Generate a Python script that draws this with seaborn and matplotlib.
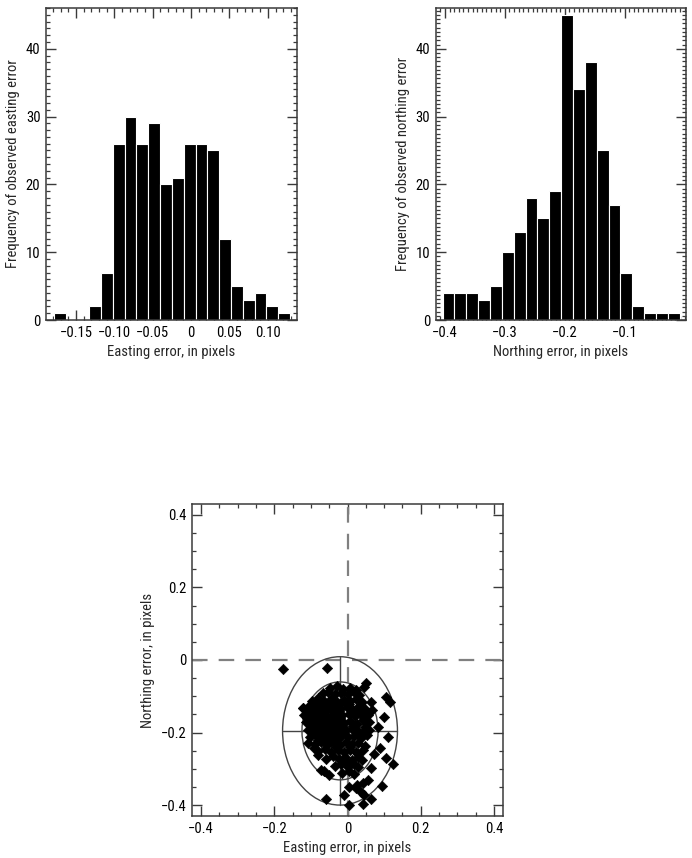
import numpy as np
import pandas as pd
import matplotlib
matplotlib.use("Agg")
import matplotlib.pyplot as plt
from matplotlib.patches import Ellipse
from matplotlib.ticker import MultipleLocator, FixedLocator, FuncFormatter
from matplotlib import font_manager
import seaborn as sns

# histogram counts
easting_counts = [1, 0, 0, 2, 7, 26, 30, 26, 29, 20, 21, 26, 26, 25, 12, 5, 3, 4, 2, 1]
easting_edges = np.linspace(-0.179, 0.129, 21)

northing_counts = [4, 4, 4, 3, 5, 10, 13, 18, 15, 19, 45, 34, 38, 25, 17, 7, 2, 1, 1, 1]
northing_edges = np.linspace(-0.404, -0.008, 21)

# scatter points (easting, northing)
points = [
    # dense core
    (-0.048, -0.078), (-0.030, -0.072), (-0.012, -0.080), (0.008, -0.076), (0.022, -0.083),
    (-0.068, -0.092), (-0.052, -0.088), (-0.035, -0.095), (-0.018, -0.090), (0.000, -0.094),
    (0.018, -0.088), (0.032, -0.097),
    (-0.098, -0.112), (-0.082, -0.106), (-0.064, -0.114), (-0.046, -0.108), (-0.028, -0.115),
    (-0.010, -0.109), (0.006, -0.113), (0.024, -0.107), (0.040, -0.116),
    (-0.122, -0.133), (-0.106, -0.127), (-0.090, -0.135), (-0.072, -0.129), (-0.055, -0.136),
    (-0.037, -0.128), (-0.020, -0.134), (-0.002, -0.130), (0.015, -0.137), (0.032, -0.127),
    (0.048, -0.134),
    (-0.118, -0.152), (-0.100, -0.147), (-0.084, -0.155), (-0.066, -0.149), (-0.048, -0.156),
    (-0.031, -0.146), (-0.014, -0.153), (0.003, -0.148), (0.020, -0.155), (0.037, -0.149),
    (0.055, -0.153),
    (-0.114, -0.171), (-0.097, -0.166), (-0.080, -0.174), (-0.062, -0.168), (-0.045, -0.175),
    (-0.027, -0.167), (-0.010, -0.173), (0.008, -0.169), (0.025, -0.176), (0.042, -0.166),
    (0.058, -0.172),
    (-0.108, -0.192), (-0.091, -0.186), (-0.074, -0.194), (-0.056, -0.188), (-0.039, -0.195),
    (-0.021, -0.187), (-0.004, -0.193), (0.013, -0.189), (0.030, -0.196), (0.047, -0.186),
    (0.060, -0.193),
    (-0.102, -0.212), (-0.085, -0.206), (-0.068, -0.214), (-0.050, -0.208), (-0.033, -0.215),
    (-0.015, -0.207), (0.002, -0.213), (0.019, -0.209), (0.036, -0.216), (0.052, -0.206),
    (-0.090, -0.232), (-0.073, -0.226), (-0.056, -0.234), (-0.038, -0.228), (-0.021, -0.235),
    (-0.004, -0.227), (0.013, -0.233), (0.030, -0.229), (0.047, -0.236),
    (-0.080, -0.252), (-0.062, -0.246), (-0.045, -0.254), (-0.027, -0.248), (-0.010, -0.255),
    (0.007, -0.247), (0.024, -0.253), (0.041, -0.249),
    (-0.058, -0.272), (-0.040, -0.266), (-0.023, -0.274), (-0.006, -0.268), (0.011, -0.275),
    (0.028, -0.267), (0.040, -0.277),
    (-0.035, -0.292), (-0.018, -0.286), (0.000, -0.294), (0.017, -0.288), (0.030, -0.296),
    (-0.015, -0.312), (0.004, -0.306), (0.018, -0.314),
    # fill-in for the darkest part of the cloud
    (-0.090, -0.118), (-0.074, -0.120), (-0.056, -0.122), (-0.038, -0.119), (-0.020, -0.121),
    (-0.108, -0.140), (-0.092, -0.143), (-0.075, -0.140), (-0.058, -0.142), (-0.040, -0.139),
    (-0.022, -0.141), (-0.110, -0.160), (-0.092, -0.158), (-0.074, -0.161), (-0.056, -0.160),
    (-0.038, -0.162), (-0.020, -0.160), (-0.100, -0.180), (-0.082, -0.182), (-0.065, -0.179),
    (-0.048, -0.181), (-0.030, -0.180), (-0.094, -0.200), (-0.076, -0.202), (-0.058, -0.200),
    (-0.042, -0.203), (-0.024, -0.199), (-0.080, -0.220), (-0.062, -0.221), (-0.044, -0.222),
    (-0.026, -0.219), (0.005, -0.121), (0.028, -0.142), (0.046, -0.160), (0.016, -0.181),
    (0.040, -0.201), (0.008, -0.240), (0.030, -0.260), (-0.005, -0.282), (-0.032, -0.240),
    # scattered ones
    (-0.175, -0.026), (-0.057, -0.023), (0.050, -0.063), (0.044, -0.075), (0.105, -0.101),
    (0.116, -0.117), (0.100, -0.156), (0.084, -0.186), (0.068, -0.138), (0.064, -0.115),
    (0.111, -0.213), (0.089, -0.242), (0.105, -0.269), (0.125, -0.287), (0.095, -0.347),
    (0.064, -0.299), (0.055, -0.331), (0.041, -0.340), (0.027, -0.345), (0.036, -0.363),
    (0.064, -0.384), (0.041, -0.397), (0.005, -0.400), (-0.009, -0.371), (0.005, -0.349),
    (-0.059, -0.384), (-0.050, -0.317), (-0.073, -0.302), (-0.065, -0.306), (-0.109, -0.230),
    (-0.091, -0.244), (-0.123, -0.133), (-0.082, -0.262), (0.023, -0.354), (0.045, -0.372),
    (0.073, -0.260),
]
east = [p[0] for p in points]
north = [p[1] for p in points]

# error ellipses
ell_center = (-0.0205, -0.1955)
ell_inner = (0.104, 0.135)
ell_outer = (0.157, 0.2045)

sns.set_style("ticks")
names = {f.name for f in font_manager.fontManager.ttflist}
narrow = [n for n in ['Liberation Sans Narrow', 'Roboto Condensed', 'Open Sans Condensed',
                      'DejaVu Sans Condensed'] if n in names]
plt.rcParams['font.family'] = narrow + ['DejaVu Sans']
plt.rcParams['font.stretch'] = 'condensed'
plt.rcParams['axes.edgecolor'] = '#3a3a3a'
plt.rcParams['axes.linewidth'] = 1.1
plt.rcParams['xtick.color'] = '#3a3a3a'
plt.rcParams['ytick.color'] = '#3a3a3a'
plt.rcParams['xtick.labelcolor'] = 'black'
plt.rcParams['ytick.labelcolor'] = 'black'

label_size = 10.5 if narrow else 9.5
tick_size = 10.5 if narrow else 9

fig = plt.figure(figsize=(6.92, 8.58), dpi=100)
ax1 = fig.add_axes([0.0665, 0.627, 0.3627, 0.3636])
ax2 = fig.add_axes([0.630, 0.627, 0.361, 0.3636])
ax3 = fig.add_axes([0.2775, 0.049, 0.4494, 0.3636])


def fmt(decimals):
    def f(v, pos):
        if abs(v) < 1e-9:
            return "0"
        return ("%." + str(decimals) + "f") % v
    return FuncFormatter(lambda v, pos: f(v, pos).replace('-', '\u2212'))


def style_ticks(ax):
    ax.tick_params(which='both', direction='in', top=True, right=True, labelsize=tick_size, pad=4)
    ax.tick_params(which='major', length=7, width=1.0)
    ax.tick_params(which='minor', length=3, width=0.9)


def hist_frame(edges, counts):
    centers = (edges[:-1] + edges[1:]) / 2
    return pd.DataFrame({"err": centers, "n": counts})


# easting histogram
sns.histplot(data=hist_frame(easting_edges, easting_counts), x="err", weights="n",
             bins=list(easting_edges), color='black', edgecolor='white', linewidth=0.8,
             alpha=1, ax=ax1)
ax1.set_xlim(-0.189, 0.138)
ax1.set_ylim(0, 46)
ax1.xaxis.set_major_locator(FixedLocator([-0.15, -0.10, -0.05, 0, 0.05, 0.10]))
ax1.xaxis.set_minor_locator(MultipleLocator(0.01))
ax1.xaxis.set_major_formatter(fmt(2))
ax1.yaxis.set_major_locator(MultipleLocator(10))
ax1.yaxis.set_minor_locator(MultipleLocator(1))
ax1.set_xlabel("Easting error, in pixels", fontsize=label_size)
ax1.set_ylabel("Frequency of observed easting error", fontsize=label_size)
style_ticks(ax1)

# northing histogram
sns.histplot(data=hist_frame(northing_edges, northing_counts), x="err", weights="n",
             bins=list(northing_edges), color='black', edgecolor='white', linewidth=0.8,
             alpha=1, ax=ax2)
ax2.set_xlim(-0.415, 0.002)
ax2.set_ylim(0, 46)
ax2.xaxis.set_major_locator(FixedLocator([-0.4, -0.3, -0.2, -0.1]))
ax2.xaxis.set_minor_locator(MultipleLocator(0.1 / 13))
ax2.xaxis.set_major_formatter(fmt(1))
ax2.yaxis.set_major_locator(MultipleLocator(10))
ax2.yaxis.set_minor_locator(MultipleLocator(10 / 16))
ax2.set_xlabel("Northing error, in pixels", fontsize=label_size)
ax2.set_ylabel("Frequency of observed northing error", fontsize=label_size)
style_ticks(ax2)

# scatter of both errors
ax3.axhline(0, color='#808080', lw=1.6, ls=(0, (7, 5)), zorder=1)
ax3.axvline(0, color='#808080', lw=1.6, ls=(0, (7, 5)), zorder=1)
for r in (ell_inner, ell_outer):
    ax3.add_patch(Ellipse(ell_center, 2 * r[0], 2 * r[1], fill=False,
                          edgecolor='#444444', lw=1.0, zorder=2))
cx, cy = ell_center
ax3.plot([cx - ell_outer[0], cx + ell_outer[0]], [cy, cy], color='#444444', lw=1.0, zorder=2)
ax3.plot([cx, cx], [cy - ell_outer[1], cy + ell_outer[1]], color='#444444', lw=1.0, zorder=2)
sns.scatterplot(x=east, y=north, marker='D', color='black', s=28, edgecolor='black',
                linewidth=0.4, ax=ax3, zorder=3)
ax3.set_xlim(-0.425, 0.425)
ax3.set_ylim(-0.43, 0.43)
ax3.xaxis.set_major_locator(FixedLocator([-0.4, -0.2, 0, 0.2, 0.4]))
ax3.yaxis.set_major_locator(FixedLocator([-0.4, -0.2, 0, 0.2, 0.4]))
ax3.xaxis.set_minor_locator(MultipleLocator(0.05))
ax3.yaxis.set_minor_locator(MultipleLocator(0.05))
ax3.xaxis.set_major_formatter(fmt(1))
ax3.yaxis.set_major_formatter(fmt(1))
ax3.set_xlabel("Easting error, in pixels", fontsize=label_size)
ax3.set_ylabel("Northing error, in pixels", fontsize=label_size)
style_ticks(ax3)

fig.savefig("out.png", dpi=100)
